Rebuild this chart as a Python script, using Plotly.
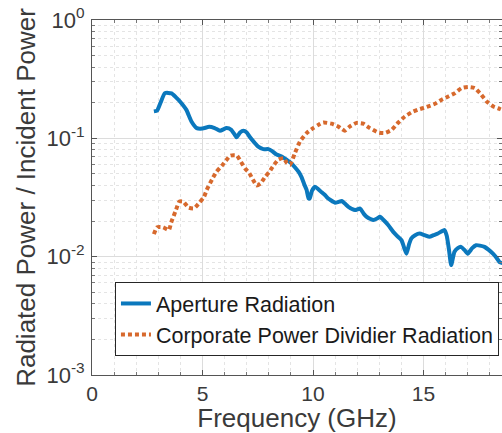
import plotly.graph_objects as go

# Aperture radiation (blue)
freq_aperture = [2.8, 2.95, 3.1, 3.3, 3.6, 3.8, 3.98, 4.27, 4.5, 4.74, 5.0, 5.3, 5.55, 5.79,
                 6.09, 6.3, 6.45, 6.54, 6.7, 6.85, 7.0, 7.15, 7.35, 7.52, 7.75, 7.98, 8.15,
                 8.35, 8.6, 8.8, 9.0, 9.18, 9.35, 9.48, 9.6, 9.71, 9.8, 9.85, 9.95, 10.09,
                 10.25, 10.39, 10.55, 10.69, 11.0, 11.15, 11.3, 11.45, 11.6, 11.9, 12.13,
                 12.3, 12.43, 12.6, 12.73, 12.9, 13.03, 13.18, 13.4, 13.63, 13.8, 14.0,
                 14.15, 14.23, 14.35, 14.45, 14.62, 14.82, 15.05, 15.27, 15.45, 15.65,
                 15.95, 16.05, 16.15, 16.25, 16.4, 16.55, 16.7, 16.85, 17.0, 17.2, 17.38,
                 17.55, 17.76, 17.95, 18.14, 18.3, 18.44, 18.6]
power_aperture = [0.169, 0.172, 0.2, 0.241, 0.240, 0.222, 0.205, 0.174, 0.139, 0.122, 0.121,
                  0.125, 0.122, 0.116, 0.122, 0.118, 0.108, 0.102, 0.112, 0.116, 0.112, 0.102,
                  0.092, 0.085, 0.081, 0.081, 0.078, 0.073, 0.070, 0.066, 0.062, 0.057, 0.052,
                  0.047, 0.041, 0.0366, 0.031, 0.031, 0.036, 0.039, 0.037, 0.035, 0.033, 0.031,
                  0.0286, 0.029, 0.0295, 0.028, 0.0264, 0.0248, 0.0255, 0.023, 0.0217, 0.0208,
                  0.0204, 0.021, 0.0217, 0.0205, 0.0185, 0.0162, 0.015, 0.0138, 0.0115, 0.0106,
                  0.0128, 0.0143, 0.0152, 0.0157, 0.0152, 0.0147, 0.0152, 0.0157, 0.0168,
                  0.015, 0.0115, 0.0085, 0.011, 0.0118, 0.0121, 0.0114, 0.0106, 0.0118, 0.0125,
                  0.0124, 0.0121, 0.0114, 0.0106, 0.0098, 0.009, 0.0088]

# Corporate power divider radiation (orange)
freq_divider = [2.8, 2.94, 3.21, 3.48, 3.58, 3.8, 3.95, 4.13, 4.36, 4.62, 4.86, 5.07, 5.19,
                5.46, 5.64, 5.87, 6.06, 6.27, 6.55, 6.73, 6.92, 7.12, 7.27, 7.45, 7.63, 7.82,
                8.01, 8.2, 8.43, 8.66, 8.82, 8.96, 9.18, 9.41, 9.71, 10.01, 10.25, 10.46,
                10.84, 11.14, 11.3, 11.44, 11.67, 11.97, 12.27, 12.57, 12.95, 13.26, 13.56,
                13.86, 14.16, 14.46, 14.76, 15.14, 15.52, 15.82, 16.12, 16.42, 16.72, 17.02,
                17.32, 17.55, 17.86, 18.16, 18.46, 18.6]
power_divider = [0.0155, 0.0177, 0.0177, 0.0168, 0.0194, 0.0248, 0.0292, 0.0292, 0.026,
                 0.0256, 0.0286, 0.0321, 0.0366, 0.046, 0.0524, 0.0585, 0.0649, 0.0715, 0.0715,
                 0.0636, 0.0559, 0.0507, 0.0451, 0.0400, 0.0417, 0.0469, 0.0517, 0.0585, 0.066,
                 0.068, 0.062, 0.0597, 0.075, 0.094, 0.1107, 0.122, 0.130, 0.136, 0.133, 0.126,
                 0.120, 0.116, 0.126, 0.135, 0.133, 0.122, 0.112, 0.111, 0.118, 0.136, 0.153,
                 0.166, 0.175, 0.184, 0.196, 0.212, 0.226, 0.241, 0.266, 0.272, 0.266, 0.241,
                 0.205, 0.186, 0.177, 0.172]

x_tickvals = [0, 5, 10, 15]
x_minor = [v for v in range(0, 20)]
y_tickvals = [1e-3, 1e-2, 1e-1, 1]
y_ticktext = ["10<sup>-3</sup>", "10<sup>-2</sup>", "10<sup>-1</sup>", "10<sup>0</sup>"]
y_minor = [m * 10 ** e for e in (-3, -2, -1) for m in range(2, 10)]

FONT = "Liberation Sans, Arial, sans-serif"

fig = go.Figure()
fig.add_trace(go.Scatter(
    x=freq_aperture, y=power_aperture, mode="lines", name="Aperture Radiation",
    line=dict(color="#0b78bd", width=4, shape="spline", smoothing=0.5)))
fig.add_trace(go.Scatter(
    x=freq_divider, y=power_divider, mode="lines", name="Corporate Power Dividier Radiation",
    line=dict(color="#d7692d", width=4, dash="4px,3px", shape="spline", smoothing=0.5)))

axis_common = dict(
    showline=True, linecolor="#555555", linewidth=1, mirror="ticks",
    ticks="inside", ticklen=5, tickcolor="#555555",
    showgrid=True, gridcolor="#dcdcdc", gridwidth=1,
    zeroline=False,
)

fig.update_layout(
    width=502, height=433,
    margin=dict(l=92, r=0, t=20, b=58, autoexpand=False),
    paper_bgcolor="white", plot_bgcolor="white",
    font=dict(family=FONT, color="#3a3a3a"),
    xaxis=dict(
        axis_common, range=[0, 18.55], tickmode="array", tickvals=x_tickvals,
        automargin=False, ticklabelstandoff=0,
        tickfont=dict(family=FONT, size=21, color="#3a3a3a"),
        title=dict(text="Frequency (GHz)", font=dict(family=FONT, size=26, color="#3a3a3a"),
                   standoff=6),
        minor=dict(tickmode="array", tickvals=x_minor, showgrid=True, gridcolor="#e4e4e4",
                   griddash="dot", ticks="inside", ticklen=3, tickcolor="#777777"),
    ),
    yaxis=dict(
        axis_common, type="log", range=[-3, 0], tickmode="array",
        tickvals=y_tickvals, ticktext=y_ticktext, ticklabelstandoff=2,
        automargin=False,
        tickfont=dict(family=FONT, size=22, color="#3a3a3a"),
        title=dict(text="Radiated Power / Incident Power",
                   font=dict(family=FONT, size=26, color="#3a3a3a"), standoff=3),
        minor=dict(tickmode="array", tickvals=y_minor, showgrid=True, gridcolor="#e4e4e4",
                   griddash="dot", ticks="inside", ticklen=3, tickcolor="#777777"),
    ),
    legend=dict(
        x=0.056, y=0.262, xanchor="left", yanchor="top",
        bgcolor="white", bordercolor="#262626", borderwidth=1,
        font=dict(family=FONT, size=21.5, color="#1a1a1a"),
        itemwidth=30, tracegroupgap=0,
    ),
    showlegend=True,
)

fig.write_html("out.html")
